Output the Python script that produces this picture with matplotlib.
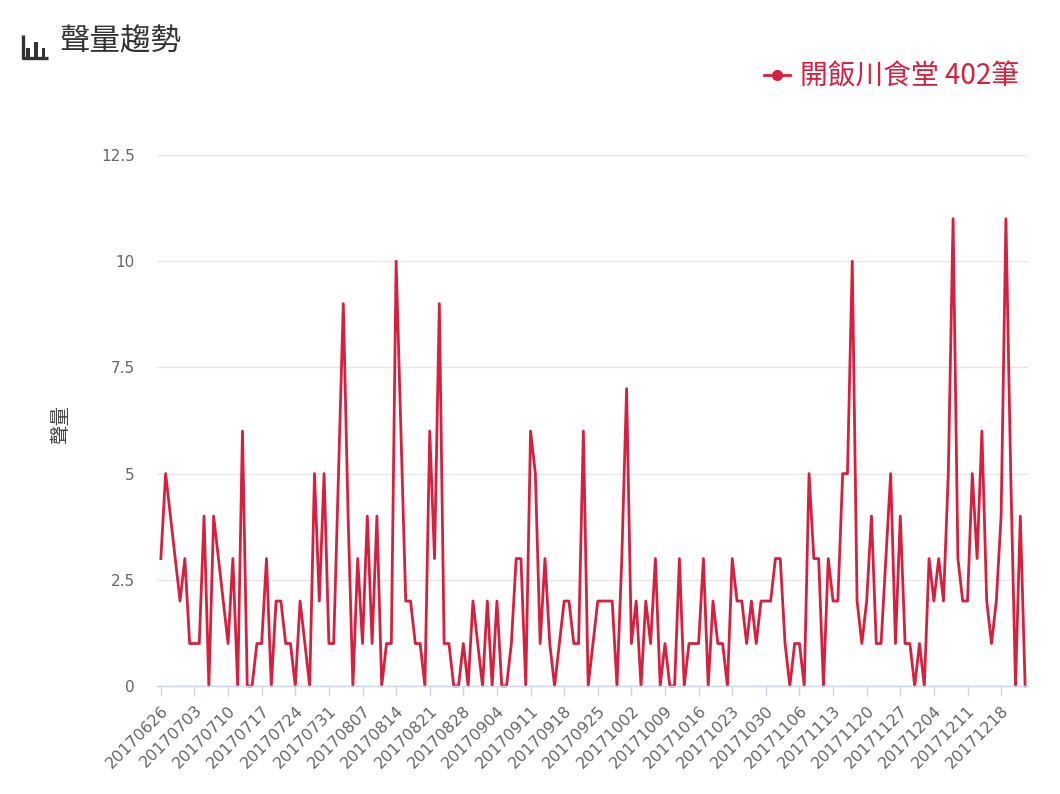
import matplotlib
matplotlib.use('Agg')
import matplotlib.pyplot as plt
import numpy as np

# daily counts 20170626 .. 20171223
counts = [3, 5, 4, 3, 2, 3, 1, 1, 1, 4,
          0, 4, 3, 2, 1, 3, 0, 6, 0, 0,
          1, 1, 3, 0, 2, 2, 1, 1, 0, 2,
          1, 0, 5, 2, 5, 1, 1, 5, 9, 4,
          0, 3, 1, 4, 1, 4, 0, 1, 1, 10,
          6, 2, 2, 1, 1, 0, 6, 3, 9, 1,
          1, 0, 0, 1, 0, 2, 1, 0, 2, 0,
          2, 0, 0, 1, 3, 3, 0, 6, 5, 1,
          3, 1, 0, 1, 2, 2, 1, 1, 6, 0,
          1, 2, 2, 2, 2, 0, 3, 7, 1, 2,
          0, 2, 1, 3, 0, 1, 0, 0, 3, 0,
          1, 1, 1, 3, 0, 2, 1, 1, 0, 3,
          2, 2, 1, 2, 1, 2, 2, 2, 3, 3,
          1, 0, 1, 1, 0, 5, 3, 3, 0, 3,
          2, 2, 5, 5, 10, 2, 1, 2, 4, 1,
          1, 3, 5, 1, 4, 1, 1, 0, 1, 0,
          3, 2, 3, 2, 5, 11, 3, 2, 2, 5,
          3, 6, 2, 1, 2, 4, 11, 5, 0, 4, 0]

week_labels = ['20170626', '20170703', '20170710', '20170717', '20170724',
               '20170731', '20170807', '20170814', '20170821', '20170828',
               '20170904', '20170911', '20170918', '20170925', '20171002',
               '20171009', '20171016', '20171023', '20171030', '20171106',
               '20171113', '20171120', '20171127', '20171204', '20171211',
               '20171218']

y_ticks = [0, 2.5, 5, 7.5, 10, 12.5]
y_tick_labels = ['0', '2.5', '5', '7.5', '10', '12.5']

series_name = '開飯川食堂 402筆'
RED = '#d6203f'

plt.rcParams['font.family'] = ['Noto Sans CJK TC', 'DejaVu Sans']

W, H = 1060, 794
fig = plt.figure(figsize=(W / 100, H / 100), dpi=100)
ax = fig.add_axes([157 / W, (H - 686) / H, 871 / W, 531 / H])

x = np.arange(len(counts))
ax.plot(x, counts, color=RED, lw=2.0, clip_on=False, label=series_name)

ax.set_xlim(-0.8, 180.6)
ax.set_ylim(0, 12.5)

ax.set_yticks(y_ticks)
ax.set_yticklabels(y_tick_labels, family='DejaVu Sans', fontsize=11, color='#666666')
ax.tick_params(axis='y', length=0, pad=16)
ax.grid(axis='y', color='#e6e6e6', lw=1)
ax.set_axisbelow(True)

ax.set_xticks(x[::7])
ax.set_xticklabels(week_labels, rotation=45, ha='right', va='top',
                   rotation_mode='anchor', family='DejaVu Sans',
                   fontsize=11.5, color='#666666')
ax.tick_params(axis='x', length=7, width=1, color='#ccd6eb', pad=5)

for s in ['top', 'right', 'left']:
    ax.spines[s].set_visible(False)
ax.spines['bottom'].set_color('#ccd6eb')
ax.spines['bottom'].set_linewidth(1)

fig.text(61 / W, 1 - 425 / H, '聲量', rotation=90, ha='center', va='center',
         fontsize=14, color='#444444')

# title with small bar icon
fig.text(60 / W, 1 - 42 / H, '聲量趨勢', ha='left', va='center',
         fontsize=22, color='#333333')
icon = fig.add_axes([22 / W, 1 - 58 / H, 26 / W, 23 / H])
icon.bar([1, 2, 3], [0.45, 0.7, 0.45], width=0.5, color='#333333')
icon.set_xlim(0.2, 3.6)
icon.set_ylim(0, 1)
icon.axis('off')
icon.plot([0.3, 0.3, 3.6], [1.0, 0.0, 0.0], color='#333333', lw=2.4,
          clip_on=False, solid_capstyle='butt')

leg = fig.legend(loc='center right', bbox_to_anchor=(1019 / W, 1 - 77 / H),
                 frameon=False, fontsize=20, labelcolor=RED,
                 handlelength=0.95, handletextpad=0.35,
                 borderpad=0, borderaxespad=0)
for h in leg.legend_handles:
    h.set_marker('o')
    h.set_markersize(7)
    h.set_linewidth(2)

fig.savefig('out.png', dpi=100)
